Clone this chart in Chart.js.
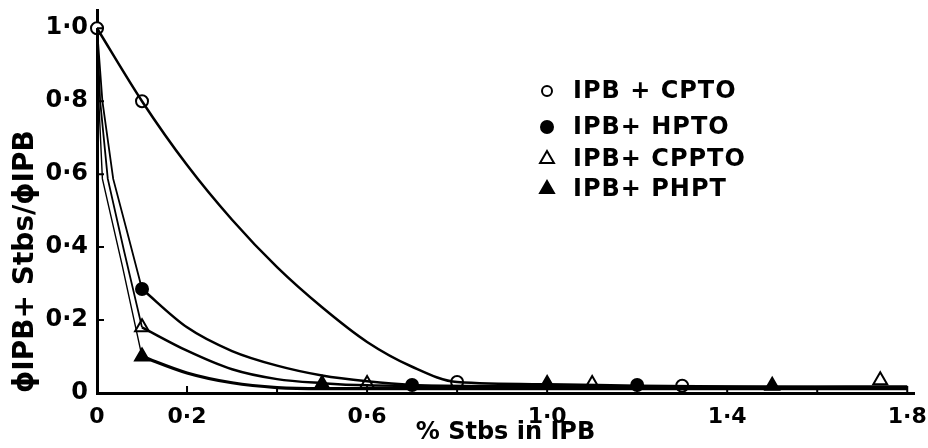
<!DOCTYPE html>
<html>
<head>
<meta charset="utf-8">
<script src="https://cdn.jsdelivr.net/npm/chart.js@4"></script>
<style>
  body { margin: 0; background: #fff; }
  #wrap { width: 928px; height: 448px; }
</style>
</head>
<body>
<div id="wrap"><canvas id="quenchChart"></canvas></div>
<script>
// Series names
const seriesNames = ["IPB + CPTO", "IPB+ HPTO", "IPB+ CPPTO", "IPB+ PHPT"];

// Measured points (markers)
const cptoX = [0, 0.1, 0.8, 1.3];
const cptoY = [1.0, 0.8, 0.03, 0.02];
const hptoX = [0.1, 0.7, 1.2];
const hptoY = [0.285, 0.022, 0.022];
const cpptoX = [0.1, 0.6, 1.1, 1.74];
const cpptoY = [0.18, 0.025, 0.025, 0.035];
const phptX = [0.1, 0.5, 1.0, 1.5];
const phptY = [0.1, 0.025, 0.025, 0.02];

// Drawn curves
const cptoCurveX = [0, 0.1, 0.2, 0.3, 0.4, 0.5, 0.6, 0.7, 0.8, 1.0, 1.2, 1.4, 1.6, 1.8];
const cptoCurveY = [1.0, 0.8, 0.625, 0.475, 0.345, 0.235, 0.14, 0.072, 0.03, 0.024, 0.02, 0.018, 0.016, 0.015];

// thin lead-in lines from the origin value to the first marker
const hptoLeadX = [0, 0.012, 0.036, 0.066, 0.1];
const hptoLeadY = [1.0, 0.8, 0.587, 0.446, 0.285];
const cpptoLeadX = [0, 0.007, 0.024, 0.06, 0.1];
const cpptoLeadY = [1.0, 0.8, 0.587, 0.39, 0.18];
const phptLeadX = [0, 0.004, 0.012, 0.056, 0.1];
const phptLeadY = [1.0, 0.8, 0.587, 0.35, 0.1];

// decay curves after the first marker
const hptoCurveX = [0.1, 0.2, 0.3, 0.4, 0.5, 0.6, 0.7, 0.9, 1.2, 1.5, 1.8];
const hptoCurveY = [0.285, 0.18, 0.115, 0.075, 0.048, 0.032, 0.022, 0.018, 0.016, 0.014, 0.012];
const cpptoCurveX = [0.1, 0.2, 0.3, 0.4, 0.5, 0.6, 0.8, 1.1, 1.4, 1.8];
const cpptoCurveY = [0.18, 0.116, 0.065, 0.038, 0.027, 0.021, 0.019, 0.018, 0.017, 0.018];
const phptCurveX = [0.1, 0.2, 0.3, 0.4, 0.5, 0.7, 1.0, 1.5, 1.8];
const phptCurveY = [0.1, 0.055, 0.028, 0.015, 0.012, 0.012, 0.012, 0.012, 0.012];

// Axis ticks
const xTickValues = [0, 0.2, 0.6, 1.0, 1.4, 1.8];
const xTickLabels = ["0", "0·2", "0·6", "1·0", "1·4", "1·8"];
const xTickMarks = [0.2, 0.4, 0.6, 0.8, 1.0, 1.2, 1.4, 1.6, 1.8];
const yTickValues = [0, 0.2, 0.4, 0.6, 0.8, 1.0];
const yTickLabels = ["0", "0·2", "0·4", "0·6", "0·8", "1·0"];

function toPoints(xs, ys) {
  return xs.map((x, i) => ({ x: x, y: ys[i] }));
}

const markerStyles = [
  { pointStyle: "circle", radius: 6, fill: "#fff" },
  { pointStyle: "circle", radius: 6, fill: "#000" },
  { pointStyle: "triangle", radius: 8, fill: "#fff" },
  { pointStyle: "triangle", radius: 8, fill: "#000" },
];

function curveSet(xs, ys, width, smooth) {
  return {
    data: toPoints(xs, ys),
    showLine: true,
    pointRadius: 0,
    borderColor: "#000",
    borderWidth: width,
    borderJoinStyle: "round",
    cubicInterpolationMode: smooth ? "monotone" : "default",
    tension: smooth ? 0.4 : 0,
    clip: false,
  };
}

function markerSet(xs, ys, i) {
  const m = markerStyles[i];
  return {
    label: seriesNames[i],
    data: toPoints(xs, ys),
    showLine: false,
    pointStyle: m.pointStyle,
    pointRadius: m.radius,
    pointBackgroundColor: m.fill,
    pointBorderColor: "#000",
    pointBorderWidth: 2,
    clip: false,
  };
}

// Short inward tick marks on both axes
const inwardTicks = {
  id: "inwardTicks",
  afterDraw(chart) {
    const { ctx, chartArea, scales } = chart;
    ctx.save();
    ctx.strokeStyle = "#000";
    ctx.lineWidth = 2;
    ctx.beginPath();
    xTickMarks.forEach((v) => {
      const px = scales.x.getPixelForValue(v);
      ctx.moveTo(px, chartArea.bottom);
      ctx.lineTo(px, chartArea.bottom - 7);
    });
    yTickValues.slice(1).forEach((v) => {
      const py = scales.y.getPixelForValue(v);
      ctx.moveTo(chartArea.left, py);
      ctx.lineTo(chartArea.left + 7, py);
    });
    ctx.stroke();
    ctx.restore();
  },
};

// Legend drawn inside the plot, upper right
const innerLegend = {
  id: "innerLegend",
  afterDraw(chart) {
    const ctx = chart.ctx;
    const rowY = [91, 127, 159, 189];
    ctx.save();
    ctx.font = "bold 24px 'DejaVu Sans'";
    ctx.textBaseline = "middle";
    ctx.letterSpacing = "1px";
    seriesNames.forEach((name, i) => {
      const m = markerStyles[i];
      ctx.fillStyle = m.fill;
      ctx.strokeStyle = "#000";
      ctx.lineWidth = 2;
      Chart.helpers.drawPoint(
        ctx,
        { pointStyle: m.pointStyle, radius: i === 0 ? 5 : m.radius, rotation: 0, borderWidth: 2 },
        547,
        rowY[i]
      );
      ctx.fillStyle = "#000";
      ctx.fillText(name, 573, rowY[i] + 1);
    });
    ctx.restore();
  },
};

document.addEventListener("DOMContentLoaded", function () {
  const ctx = document.getElementById("quenchChart").getContext("2d");
  new Chart(ctx, {
    type: "scatter",
    data: {
      datasets: [
        curveSet(cptoCurveX, cptoCurveY, 2.5, true),
        curveSet(hptoLeadX, hptoLeadY, 1.8, false),
        curveSet(hptoCurveX, hptoCurveY, 2.5, true),
        curveSet(cpptoLeadX, cpptoLeadY, 1.8, false),
        curveSet(cpptoCurveX, cpptoCurveY, 2.5, true),
        curveSet(phptLeadX, phptLeadY, 1.4, false),
        curveSet(phptCurveX, phptCurveY, 3.2, true),
        markerSet(cptoX, cptoY, 0),
        markerSet(hptoX, hptoY, 1),
        markerSet(cpptoX, cpptoY, 2),
        markerSet(phptX, phptY, 3),
      ],
    },
    options: {
      responsive: true,
      maintainAspectRatio: false,
      animation: false,
      layout: { padding: { top: 10, right: 14, left: 0, bottom: 0 } },
      plugins: {
        legend: { display: false },
        tooltip: { enabled: false },
      },
      scales: {
        x: {
          type: "linear",
          min: 0,
          max: 1.815,
          grid: { display: false, drawTicks: false },
          border: { display: true, color: "#000", width: 3 },
          afterBuildTicks: (scale) => {
            scale.ticks = xTickValues.map((v) => ({ value: v }));
          },
          afterFit: (scale) => {
            scale.height = 55;
            scale.paddingLeft = 0;
            scale.paddingRight = 0;
          },
          ticks: {
            color: "#000",
            padding: 11,
            maxRotation: 0,
            font: { family: "DejaVu Sans", weight: "bold", size: 22 },
            callback: (v) => xTickLabels[xTickValues.indexOf(v)],
          },
          title: {
            display: true,
            text: "% Stbs in IPB",
            color: "#000",
            padding: { top: 0, bottom: 1 },
            font: { family: "DejaVu Sans", weight: "bold", size: 24 },
          },
        },
        y: {
          type: "linear",
          min: 0,
          max: 1.05,
          grid: { display: false, drawTicks: false },
          border: { display: true, color: "#000", width: 3 },
          afterBuildTicks: (scale) => {
            scale.ticks = yTickValues.map((v) => ({ value: v }));
          },
          afterFit: (scale) => {
            scale.width = 97;
            scale.paddingTop = 0;
            scale.paddingBottom = 0;
          },
          ticks: {
            color: "#000",
            padding: 9,
            font: { family: "DejaVu Sans", weight: "bold", size: 24 },
            callback: (v) => yTickLabels[yTickValues.indexOf(v)],
          },
          title: {
            display: true,
            text: "ϕIPB+ Stbs/ϕIPB",
            align: "start",
            color: "#000",
            padding: { top: 9, bottom: 0 },
            font: { family: "DejaVu Sans", weight: "bold", size: 28 },
          },
        },
      },
    },
    plugins: [inwardTicks, innerLegend],
  });
});
</script>
</body>
</html>
